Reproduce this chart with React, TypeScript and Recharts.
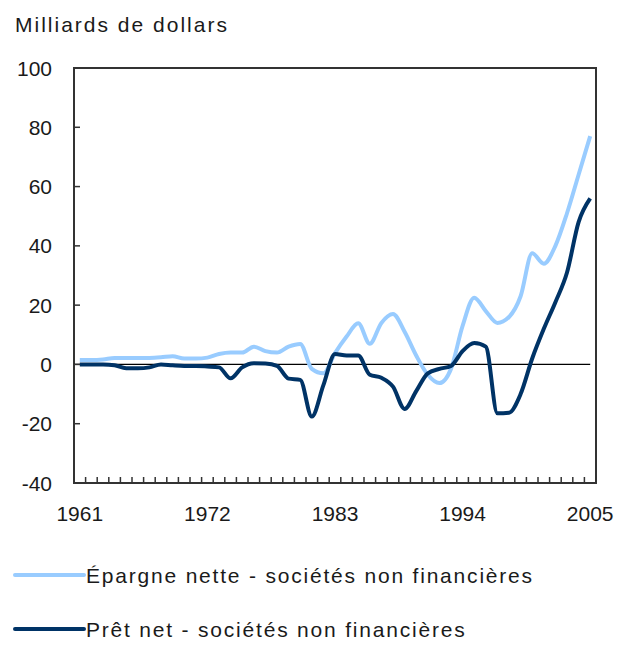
import React from 'react';
import { LineChart, Line, XAxis, YAxis, ReferenceLine, ReferenceArea, Legend } from 'recharts';

const years = [
  1961, 1962, 1963, 1964, 1965, 1966, 1967, 1968, 1969, 1970,
  1971, 1972, 1973, 1974, 1975, 1976, 1977, 1978, 1979, 1980,
  1981, 1982, 1983, 1984, 1985, 1986, 1987, 1988, 1989, 1990,
  1991, 1992, 1993, 1994, 1995, 1996, 1997, 1998, 1999, 2000,
  2001, 2002, 2003, 2004, 2005,
];

const epargneNette = [
  1.5, 1.5, 1.7, 2.2, 2.2, 2.2, 2.2, 2.4, 2.8, 2.0,
  2.0, 2.3, 3.5, 4.0, 4.0, 6.0, 4.5, 4.0, 6.0, 6.9,
  -1.5, -3.0, 3.8, 9.4, 13.9, 7.0, 14.0, 17.0, 11.0, 3.0,
  -3.5, -6.3, -1.5, 13.0, 22.5, 18.0, 14.0, 16.0, 23.0, 37.5,
  34.0, 40.0, 51.0, 64.0, 77.0,
];

const pretNet = [
  0, 0, 0, -0.3, -1.3, -1.3, -1.0, 0, -0.3, -0.5,
  -0.5, -0.7, -1.0, -4.7, -1.0, 0.4, 0.3, -0.5, -4.8, -5.2,
  -17.6, -7.0, 3.5, 3.0, 3.0, -3.5, -4.5, -7.5, -15.0, -9.0,
  -3.0, -1.5, -0.5, 4.5, 7.2, 6.0, -16.5, -16.3, -10.0, 2.0,
  12.0, 21.0, 31.0, 48.0, 56.0,
];

const xLabelYears = [1961, 1972, 1983, 1994, 2005];
const yTicks = [-40, -20, 0, 20, 40, 60, 80, 100];
const seriesNames = ['Épargne nette - sociétés non financières', 'Prêt net - sociétés non financières'];
const seriesColors = ['#99CCFF', '#003366'];
const unitTitle = 'Milliards de dollars';

const data = years.map((year, i) => ({ year, epargne: epargneNette[i], pret: pretNet[i] }));
const boundaryTicks = years.map((y) => y - 0.5).concat([years[years.length - 1] + 0.5]);

const W = 626;
const H = 651;
const PLOT_LEFT = 74;
const PLOT_RIGHT = 596;
const PLOT_TOP = 68;
const PLOT_BOTTOM = 483;
const X_AXIS_H = 40;
const STEP = (PLOT_RIGHT - PLOT_LEFT) / years.length;
const FONT = '"Liberation Sans", Arial, sans-serif';
const TEXT_COLOR = '#1a1a1a';
const FRAME = '#333333';

const YTick = (props: any) => {
  const { x, y, payload } = props;
  return (
    <g>
      <line x1={x} x2={x + 6} y1={y} y2={y} stroke={FRAME} strokeWidth={1.5} />
      <text x={x - 22} y={y} dy={7.5} textAnchor="end" fontSize={21} fontFamily={FONT} fill={TEXT_COLOR}>
        {payload.value}
      </text>
    </g>
  );
};

const XTick = (props: any) => {
  const { x, y, payload } = props;
  const labelYear = payload.value + 0.5;
  const show = xLabelYears.includes(labelYear);
  return (
    <g>
      <line x1={x} x2={x} y1={y} y2={y - 6} stroke={FRAME} strokeWidth={1.5} />
      {show && (
        <text x={x + STEP / 2} y={y} dy={38} textAnchor="middle" fontSize={21} fontFamily={FONT} fill={TEXT_COLOR}>
          {labelYear}
        </text>
      )}
    </g>
  );
};

const LegendContent = () => (
  <svg width={W} height={100} style={{ display: 'block' }}>
    {seriesNames.map((name, i) => {
      const cy = 20 + i * 54;
      return (
        <g key={name}>
          <line x1={15} x2={84} y1={cy} y2={cy} stroke={seriesColors[i]} strokeWidth={4} strokeLinecap="round" />
          <text x={86} y={cy + 8} fontSize={21} fontFamily={FONT} fill={TEXT_COLOR} letterSpacing={1.8}>
            {name}
          </text>
        </g>
      );
    })}
  </svg>
);

export default function App() {
  return (
    <div style={{ position: 'absolute', left: 0, top: 0, width: W, height: H, background: '#fff' }}>
      <svg width={W} height={50} style={{ position: 'absolute', left: 0, top: 0 }}>
        <text x={15} y={32} fontSize={21} fontFamily={FONT} fill={TEXT_COLOR} letterSpacing={2}>
          {unitTitle}
        </text>
      </svg>
      <LineChart
        width={W}
        height={H}
        data={data}
        margin={{ top: PLOT_TOP, right: W - PLOT_RIGHT, left: 0, bottom: H - PLOT_BOTTOM - X_AXIS_H }}
      >
        <XAxis
          dataKey="year"
          type="number"
          domain={[boundaryTicks[0], boundaryTicks[boundaryTicks.length - 1]]}
          ticks={boundaryTicks}
          interval={0}
          tick={<XTick />}
          tickLine={false}
          tickSize={0}
          tickMargin={0}
          axisLine={false}
          height={X_AXIS_H}
          allowDataOverflow
        />
        <YAxis
          type="number"
          domain={[-40, 100]}
          ticks={yTicks}
          interval={0}
          tick={<YTick />}
          tickLine={false}
          tickSize={0}
          tickMargin={0}
          axisLine={false}
          width={PLOT_LEFT}
          allowDataOverflow
        />
        <ReferenceArea
          x1={boundaryTicks[0]}
          x2={boundaryTicks[boundaryTicks.length - 1]}
          y1={-40}
          y2={100}
          fill="none"
          fillOpacity={0}
          stroke={FRAME}
          strokeWidth={2}
        />
        <ReferenceLine
          segment={[
            { x: boundaryTicks[0], y: 0 },
            { x: years[years.length - 1], y: 0 },
          ]}
          stroke="#000"
          strokeWidth={1.2}
        />
        <Line
          dataKey="epargne"
          name={seriesNames[0]}
          type="monotone"
          stroke={seriesColors[0]}
          strokeWidth={4}
          dot={false}
          activeDot={false}
          isAnimationActive={false}
        />
        <Line
          dataKey="pret"
          name={seriesNames[1]}
          type="monotone"
          stroke={seriesColors[1]}
          strokeWidth={4}
          dot={false}
          activeDot={false}
          isAnimationActive={false}
        />
        <Legend
          layout="vertical"
          verticalAlign="middle"
          align="center"
          content={<LegendContent />}
          wrapperStyle={{ left: 0, top: 555, width: W, height: 100 }}
        />
      </LineChart>
    </div>
  );
}
